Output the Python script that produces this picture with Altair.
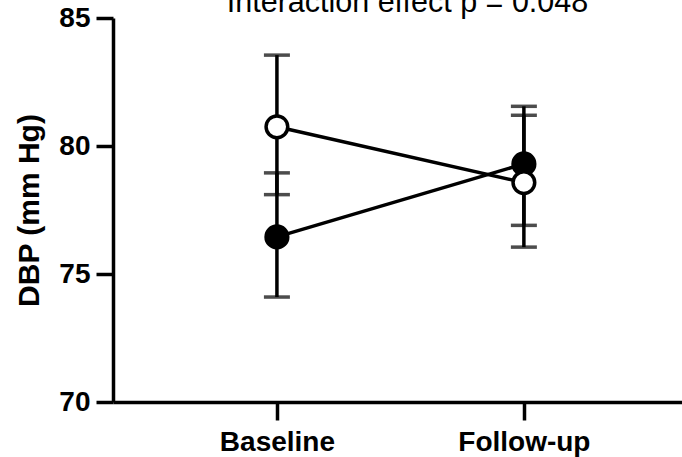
import altair as alt
import pandas as pd

# Diastolic blood pressure, two groups measured at two time points
times = ["Baseline", "Follow-up"]
groups = ["Filled", "Open"]
means_filled = [76.45, 79.3]
lower_filled = [74.1, 76.9]
upper_filled = [78.95, 81.55]
means_open = [80.75, 78.57]
lower_open = [78.1, 76.05]
upper_open = [83.55, 81.2]

rows = []
for i, t in enumerate(times):
    rows.append({"time": t, "group": "Filled", "mean": means_filled[i],
                 "lo": lower_filled[i], "hi": upper_filled[i], "order": 0})
    rows.append({"time": t, "group": "Open", "mean": means_open[i],
                 "lo": lower_open[i], "hi": upper_open[i], "order": 1})
df = pd.DataFrame(rows)

FONT = "Liberation Sans"
LW = 3.5

x_axis = alt.Axis(title=None, labelAngle=0, labelFontSize=28, labelPadding=8, tickSize=18)
x = alt.X(
    "time:N",
    scale=alt.Scale(type="point", domain=times, padding=0.652, align=0.509),
    axis=x_axis,
)
y_scale = alt.Scale(domain=[70, 85], nice=False, zero=False)
y_axis = alt.Axis(title="DBP (mm Hg)", values=[70, 75, 80, 85], titleFontSize=30,
                  titlePadding=14, labelFontSize=28, labelPadding=6, tickSize=17)

base = alt.Chart(df)

bars = base.mark_rule(color="black", strokeWidth=LW).encode(
    x=x, y=alt.Y("lo:Q", scale=y_scale, axis=y_axis), y2="hi:Q")
caps_lo = base.mark_tick(color="black", size=26, thickness=LW).encode(
    x=x, y=alt.Y("lo:Q", scale=y_scale, axis=y_axis))
caps_hi = base.mark_tick(color="black", size=26, thickness=LW).encode(
    x=x, y=alt.Y("hi:Q", scale=y_scale, axis=y_axis))
lines = base.mark_line(color="black", strokeWidth=LW).encode(
    x=x, y=alt.Y("mean:Q", scale=y_scale, axis=y_axis), detail="group:N")
points = base.mark_point(shape="circle", size=470, filled=False, strokeWidth=LW,
                         stroke="black", opacity=1).encode(
    x=x, y=alt.Y("mean:Q", scale=y_scale, axis=y_axis),
    fill=alt.Fill("group:N", scale=alt.Scale(domain=groups, range=["black", "white"]),
                  legend=None),
    order="order:Q",
)

chart = alt.layer(bars, caps_lo, caps_hi, lines, points).properties(
    width=569,
    height=384,
    background="white",
    title=alt.TitleParams("Interaction effect p = 0.048", fontSize=30.5, fontWeight="normal",
                          font=FONT, color="black", anchor="middle", dx=10, offset=-14),
    autosize=alt.AutoSizeParams(type="none"),
    padding={"left": 113, "top": 18, "right": 0, "bottom": 55},
).configure_axis(
    labelFont=FONT, labelFontWeight="bold", labelColor="black", labelFontSize=28,
    titleFont=FONT, titleFontWeight="bold", titleColor="black",
    tickWidth=LW, tickColor="black", domainWidth=LW, domainColor="black", grid=False,
).configure_axisY(
    labelFontSize=28, titleFontSize=30,
).configure_view(stroke=None)

chart.save("out.html", embed_options={"renderer": "svg", "actions": False})
